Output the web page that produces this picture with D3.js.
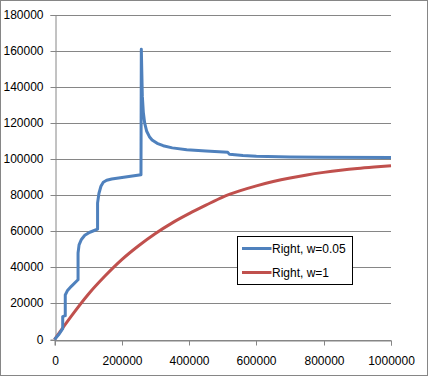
<!DOCTYPE html>
<html>
<head>
<meta charset="utf-8">
<script src="https://cdn.jsdelivr.net/npm/d3@7"></script>
<style>
  body { margin: 0; background: #fff; }
  text { font-family: "Liberation Sans", Arial, sans-serif; font-size: 12px; fill: #000; }
</style>
</head>
<body>
<div id="chart"></div>
<script>
// blue series: Right, w=0.05  (x, y)
var blueX = [0, 12000, 24400, 24400, 32000, 32000, 38000, 50000, 69000, 70000, 70000, 73000, 80000, 90000, 105000, 120000, 128000,
  128000, 132000, 138000, 145000, 155000, 170000, 257000, 258000, 261000, 264000, 268000, 274000, 282000, 290000, 305000, 323000,
  350000, 393000, 450000, 515000, 520000, 560000, 600000, 700000, 800000, 1000000];
var blueY = [0, 2600, 6000, 12700, 13200, 24700, 27000, 29500, 33000, 33200, 48000, 52500, 55500, 57800, 59500, 60600, 61200,
  75700, 81000, 85000, 87200, 88300, 89000, 91400, 161000, 135000, 126000, 120000, 115500, 112500, 110700, 108800, 107500,
  106300, 105300, 104500, 103800, 102700, 102000, 101600, 101300, 101100, 100900];

// red series: Right, w=1
var redX = [0, 50000, 100000, 150000, 200000, 250000, 300000, 350000, 400000, 450000, 500000, 550000, 600000, 650000,
  700000, 750000, 800000, 850000, 900000, 950000, 1000000];
var redY = [0, 13000, 25000, 35200, 44300, 52000, 58800, 64700, 69800, 74500, 79000, 82400, 85200, 87600,
  89600, 91300, 92700, 93900, 94900, 95700, 96400];

var xTicks = [0, 200000, 400000, 600000, 800000, 1000000];
var yTicks = [0, 20000, 40000, 60000, 80000, 100000, 120000, 140000, 160000, 180000];
var seriesNames = ["Right, w=0.05", "Right, w=1"];
var colors = ["#4F81BD", "#C0504D"];

var W = 428, H = 376;
var margin = {top: 15, right: 37, bottom: 36.5, left: 54.5};

var svg = d3.select("#chart").append("svg")
  .attr("width", W)
  .attr("height", H);

// outer border of the chart area
svg.append("rect")
  .attr("x", 0.5).attr("y", 0.5)
  .attr("width", W - 1).attr("height", H - 1)
  .attr("fill", "#fff")
  .attr("stroke", "#868686");

var x = d3.scaleLinear().domain([0, 1000000]).range([margin.left, W - margin.right]);
var y = d3.scaleLinear().domain([0, 180000]).range([H - margin.bottom, margin.top]);

// horizontal gridlines
svg.append("g")
  .selectAll("line")
  .data(yTicks)
  .enter()
  .append("line")
    .attr("x1", x(0))
    .attr("x2", x(1000000))
    .attr("y1", d => Math.round(y(d)) + 0.5)
    .attr("y2", d => Math.round(y(d)) + 0.5)
    .attr("stroke", "#868686");

// y axis
var yAxis = svg.append("g")
  .attr("transform", "translate(" + (Math.round(x(0)) + 0.5) + ",0)")
  .call(d3.axisLeft(y).tickValues(yTicks).tickSize(5).tickPadding(7).tickFormat(d3.format("d")));
yAxis.select(".domain").attr("stroke", "#868686");
yAxis.selectAll(".tick line").attr("stroke", "#868686");
yAxis.selectAll(".tick").attr("transform", d => "translate(0," + (Math.round(y(d)) + 0.5) + ")");
yAxis.attr("font-size", null).attr("font-family", null);

// x axis
var xAxis = svg.append("g")
  .attr("transform", "translate(0," + (Math.round(y(0)) + 0.5) + ")")
  .call(d3.axisBottom(x).tickValues(xTicks).tickSize(5).tickPadding(11).tickFormat(d3.format("d")));
xAxis.select(".domain").attr("stroke", "#868686");
xAxis.selectAll(".tick line").attr("stroke", "#868686");
xAxis.selectAll(".tick").attr("transform", d => "translate(" + (Math.round(x(d)) + 0.5) + ",0)");
xAxis.attr("font-size", null).attr("font-family", null);

var line = d3.line()
  .x(d => x(d[0]))
  .y(d => y(d[1]));

var redData = d3.zip(redX, redY);
var blueData = d3.zip(blueX, blueY);

svg.append("path")
  .datum(redData)
  .attr("fill", "none")
  .attr("stroke", colors[1])
  .attr("stroke-width", 3)
  .attr("d", line.curve(d3.curveMonotoneX));

svg.append("path")
  .datum(blueData)
  .attr("fill", "none")
  .attr("stroke", colors[0])
  .attr("stroke-width", 3)
  .attr("stroke-linejoin", "round")
  .attr("d", line.curve(d3.curveLinear));

// legend
var legend = svg.append("g").attr("transform", "translate(237.5,236.5)");
legend.append("rect")
  .attr("width", 115).attr("height", 48)
  .attr("fill", "#fff")
  .attr("stroke", "#000");

var item = legend.selectAll(".item")
  .data(seriesNames)
  .enter()
  .append("g")
    .attr("transform", (d, i) => "translate(0," + (12 + i * 24) + ")");
item.append("line")
  .attr("x1", 4.5).attr("x2", 34)
  .attr("stroke", (d, i) => colors[i])
  .attr("stroke-width", 3);
item.append("text")
  .attr("x", 34.5)
  .attr("dy", "0.35em")
  .text(d => d);
</script>
</body>
</html>
